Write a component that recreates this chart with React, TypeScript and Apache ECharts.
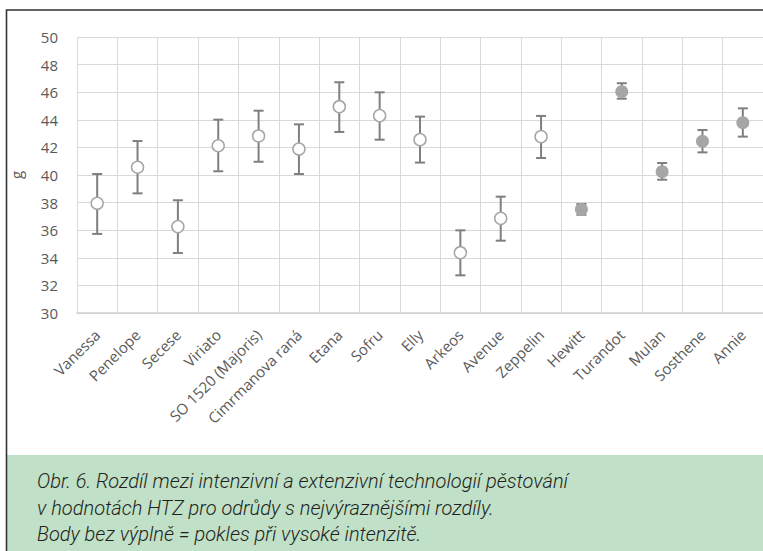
import React, { useEffect, useRef } from "react";
import * as echarts from "echarts";

const categories = [
  "Vanessa", "Penelope", "Secese", "Viriato", "SO 1520 (Majoris)", "Cimrmanova raná",
  "Etana", "Sofru", "Elly", "Arkeos", "Avenue", "Zeppelin", "Hewitt", "Turandot",
  "Mulan", "Sosthene", "Annie",
];
const means = [37.95, 40.56, 36.26, 42.12, 42.83, 41.88, 44.95, 44.3, 42.56, 34.37, 36.86, 42.78, 37.51, 46.04, 40.24, 42.44, 43.79];
const upper = [40.07, 42.46, 38.17, 44.01, 44.66, 43.67, 46.72, 45.99, 44.23, 35.99, 38.43, 44.28, 37.9, 46.65, 40.87, 43.26, 44.83];
const lower = [35.73, 38.67, 34.35, 40.27, 40.96, 40.07, 43.12, 42.56, 40.9, 32.73, 35.24, 41.23, 37.12, 45.53, 39.66, 41.64, 42.78];
// true = filled marker (increase), false = open marker (decrease at high intensity)
const filled = [false, false, false, false, false, false, false, false, false, false, false, false, true, true, true, true, true];
const yTicks = { min: 30, max: 50, interval: 2 };

const captionLines = [
  "Obr. 6. Rozdíl mezi intenzivní a extenzivní technologií pěstování",
  "v hodnotách HTZ pro odrůdy s nejvýraznějšími rozdíly.",
  "Body bez výplně = pokles při vysoké intenzitě.",
];

export default function App() {
  const ref = useRef<HTMLDivElement>(null);
  useEffect(() => {
    if (!ref.current) return;
    const chart = echarts.init(ref.current, undefined, { renderer: "svg" });
    const axisFont = { fontFamily: "Open Sans", fontSize: 15, color: "#595959" };
    const errData = categories.map((_, i) => [i, upper[i], lower[i]]);
    const openData = means.map((v, i) => (filled[i] ? "-" : v));
    const fillData = means.map((v, i) => (filled[i] ? v : "-"));
    chart.setOption({
      animation: false,
      backgroundColor: "#ffffff",
      grid: { left: 72, top: 37, width: 695, height: 276, containLabel: false },
      xAxis: {
        type: "category",
        data: categories,
        boundaryGap: true,
        axisLine: { show: true, lineStyle: { color: "#d0d0d0", width: 1.5 } },
        axisTick: { show: false },
        splitLine: { show: true, lineStyle: { color: "#d9d9d9", width: 1 } },
        axisLabel: { ...axisFont, rotate: 45, margin: 19, interval: 0 },
      },
      yAxis: {
        type: "value",
        min: yTicks.min,
        max: yTicks.max,
        interval: yTicks.interval,
        name: "g",
        nameLocation: "middle",
        nameRotate: 90,
        nameGap: 54,
        nameTextStyle: { fontFamily: "Open Sans", fontSize: 15, color: "#595959" },
        axisLine: { show: false },
        axisTick: { show: false },
        splitLine: { show: true, lineStyle: { color: "#d9d9d9", width: 1 } },
        axisLabel: { ...axisFont, margin: 19 },
      },
      graphic: [
        {
          type: "rect",
          z: 100,
          shape: { x: 7, y: 455, width: 800, height: 120 },
          style: { fill: "#c0e0c8" },
        },
        {
          type: "rect",
          z: 101,
          shape: { x: 6.5, y: 10, width: 800, height: 600 },
          style: { fill: "none", stroke: "#333333", lineWidth: 1.6 },
        },
        ...captionLines.map((t, i) => ({
          type: "text",
          z: 102,
          style: {
            text: t,
            x: 37,
            y: 481 + i * 26.5,
            verticalAlign: "middle",
            fill: "#231f20",
            font: "italic 300 20px Roboto",
          },
        })),
      ],
      series: [
        {
          type: "custom",
          data: errData,
          encode: { x: 0, y: [1, 2] },
          z: 2,
          renderItem: (params: any, api: any) => {
            const x = api.value(0);
            const top = api.coord([x, api.value(1)]);
            const bot = api.coord([x, api.value(2)]);
            const hw = 5;
            const st = { stroke: "#7f7f7f", lineWidth: 2 };
            return {
              type: "group",
              children: [
                { type: "line", shape: { x1: top[0], y1: top[1], x2: bot[0], y2: bot[1] }, style: st },
                { type: "line", shape: { x1: top[0] - hw, y1: top[1], x2: top[0] + hw, y2: top[1] }, style: st },
                { type: "line", shape: { x1: bot[0] - hw, y1: bot[1], x2: bot[0] + hw, y2: bot[1] }, style: st },
              ],
            };
          },
        },
        {
          type: "scatter",
          data: openData,
          z: 3,
          symbol: "circle",
          symbolSize: 12,
          itemStyle: { color: "#ffffff", borderColor: "#a6a6a6", borderWidth: 1.5, opacity: 1 },
        },
        {
          type: "scatter",
          data: fillData,
          z: 3,
          symbol: "circle",
          symbolSize: 13,
          itemStyle: { color: "#a6a6a6", borderColor: "#a6a6a6", borderWidth: 0, opacity: 1 },
        },
      ],
    });
    return () => chart.dispose();
  }, []);
  return (
    <div
      ref={ref}
      style={{ position: "fixed", left: 0, top: 0, width: 763, height: 551, overflow: "hidden" }}
    />
  );
}
